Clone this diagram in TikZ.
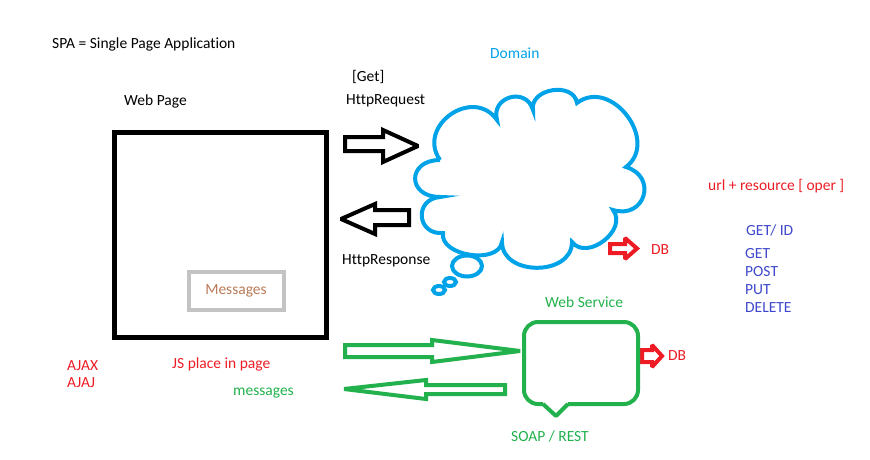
\documentclass[tikz,border=0pt]{standalone}
\usepackage{fontspec}
\setmainfont{Carlito}[Ligatures=NoCommon]
\usetikzlibrary{positioning}
\definecolor{skyblue}{RGB}{0,162,232}
\definecolor{paintred}{RGB}{237,28,36}
\definecolor{paintgreen}{RGB}{34,177,76}
\definecolor{indigo}{RGB}{63,72,204}
\definecolor{lightgray}{RGB}{195,195,195}
\definecolor{brownish}{RGB}{185,122,87}

\begin{document}
\begin{tikzpicture}[x=1pt,y=-1pt,
		every node/.style={font=\fontsize{15.5}{18}\selectfont, inner sep=0pt},
		lbl/.style={anchor=west},
		puff/.style={bend left=90, looseness=#1},
		fat/.style={line width=4pt, line join=miter, miter limit=2}]
		\useasboundingbox (0,0) rectangle (870,460);
		
		% labels
		\node[lbl] (spa) at (52,44) {SPA = Single Page Application};
		\node[lbl] (webpage) at (124,101) {Web Page};
		\node[lbl] (get) at (352,77) {[Get]};
		\node[lbl] (request) at (346,101) {HttpRequest};
		\node[lbl] (response) at (342,261) {HttpResponse};
		\node[lbl, text=skyblue] (domain) at (490,53) {Domain};
		\node[lbl, text=paintred] (url) at (708,186) {url + resource [ oper ]};
		\node[lbl, text=indigo] (getid) at (746,230) {GET/ ID};
		\node[lbl, text=indigo] (getm) at (745,254) {GET};
		\node[lbl, text=indigo] (postm) at (745,272) {POST};
		\node[lbl, text=indigo] (putm) at (745,290) {PUT};
		\node[lbl, text=indigo] (deletem) at (745,308) {DELETE};
		\node[lbl, text=paintred] (dbone) at (651,250) {DB};
		\node[lbl, text=paintred] (dbtwo) at (668,356) {DB};
		\node[lbl, text=paintgreen] (wslabel) at (545,302) {Web Service};
		\node[lbl, text=paintgreen] (soap) at (511,436) {SOAP / REST};
		\node[lbl, text=paintgreen] (msgs) at (233,393) {messages};
		\node[lbl, text=paintred] (js) at (172,364) {JS place in page};
		\node[lbl, text=paintred] (ajax) at (67,366) {AJAX};
		\node[lbl, text=paintred] (ajaj) at (67,383) {AJAJ};
		
		% web page
		\node[draw, line width=4.5pt, minimum width=212pt, minimum height=205pt] (page) at (220.5,235) {};
		\node[draw=lightgray, line width=4pt, minimum width=95pt, minimum height=38.5pt, text=brownish] (msgbox) at (236,291) {Messages};
		
		% request / response
		\draw[fat] (345,137)--(383,137)--(383,130)--(418,146)--(383,162)--(383,151)--(345,151)--cycle;
		\draw[fat] (409,210)--(375,210)--(375,204)--(341,219)--(375,234)--(375,225)--(409,225)--cycle;
		
		% domain cloud
		\draw[skyblue, line width=4pt]
		(440,160) to[puff=1.53] (497,120) to[puff=1.67] (533,110)
		to[puff=1.26] (577,103) to[puff=1.36] (626,167)
		to[puff=1.9] (613,210) to[puff=1.22] (572,242)
		to[puff=1.26] (502,242) to[puff=1.0] (443,233)
		to[puff=1.87] (440,197) to[puff=2.3] (440,160);
		\draw[skyblue, line width=4pt] (467,266) ellipse [x radius=15pt, y radius=10.5pt];
		\draw[skyblue, line width=4pt] (450,282) ellipse [x radius=6pt, y radius=4pt];
		\draw[skyblue, line width=4pt] (439,290) ellipse [x radius=6pt, y radius=4pt];
		
		% db arrows
		\draw[paintred, fat] (610,244)--(625,244)--(625,238)--(637,248.5)--(625,259)--(625,253)--(610,253)--cycle;
		\draw[paintred, fat] (642,350)--(652,350)--(652,345)--(662,356)--(652,367)--(652,362)--(642,362)--cycle;
		
		% web service
		\draw[paintgreen, line width=4pt, rounded corners=14pt]
		(543,404) -- (524,404) -- (524,322) -- (638,322) -- (638,404) -- (568,404);
		\draw[paintgreen, line width=4pt, line join=round] (543,404) -- (556,416) -- (568,404);
		
		% green messages arrows
		\draw[paintgreen, fat] (345,345)--(432,345)--(432,340)--(520,351)--(432,362)--(432,357)--(345,357)--cycle;
		\draw[paintgreen, fat] (505,385)--(426,385)--(426,380)--(344,389)--(426,399)--(426,394)--(505,394)--cycle;
		
\end{tikzpicture}
\end{document}
